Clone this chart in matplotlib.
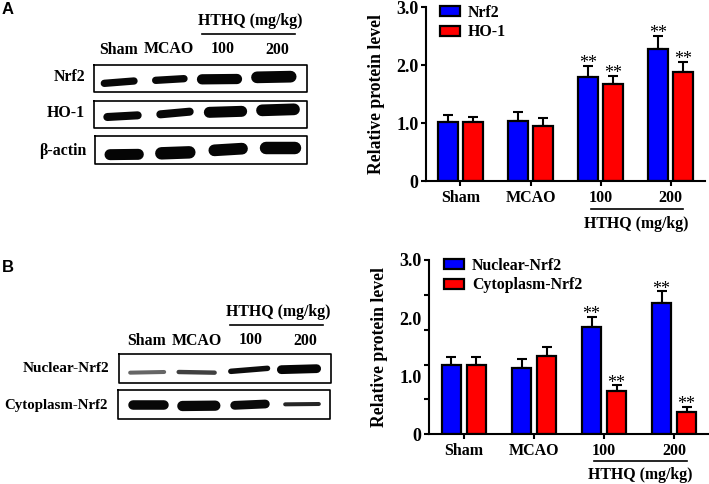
import matplotlib
matplotlib.use('Agg')
import matplotlib.pyplot as plt
from matplotlib.patches import Patch

plt.rcParams['font.family'] = ['Liberation Serif', 'DejaVu Serif']
plt.rcParams['font.weight'] = 'bold'
plt.rcParams['axes.labelweight'] = 'bold'

BLUE = '#0000ff'
RED = '#ff0000'

# ── Data ─────────────────────────────
groups = ['Sham', 'MCAO', '100', '200']

a_nrf2 = [1.01, 1.04, 1.79, 2.27]
a_nrf2_top = [1.14, 1.19, 1.99, 2.50]
a_ho1 = [1.01, 0.95, 1.67, 1.88]
a_ho1_top = [1.11, 1.08, 1.81, 2.05]
a_nrf2_stars = ['', '', '**', '**']
a_ho1_stars = ['', '', '**', '**']

b_nuc = [1.20, 1.14, 1.84, 2.26]
b_nuc_top = [1.33, 1.29, 2.02, 2.46]
b_cyt = [1.20, 1.34, 0.74, 0.39]
b_cyt_top = [1.33, 1.50, 0.84, 0.47]
b_nuc_stars = ['', '', '**', '**']
b_cyt_stars = ['', '', '**', '**']

# blot bands in zoomed picture px: x0, x1, y0, y1, thickness, grey
blot_nrf2 = [(303, 412, 250, 243, 20, 0.03), (457, 562, 241, 236, 20, 0.03),
             (592, 725, 238, 237, 28, 0.02), (755, 888, 232, 230, 32, 0.02)]
blot_ho1 = [(311, 424, 351, 346, 22, 0.03), (470, 580, 343, 335, 22, 0.03),
            (613, 740, 337, 334, 30, 0.02), (770, 898, 331, 328, 32, 0.02)]
blot_actin = [(315, 430, 464, 463, 30, 0.02), (467, 585, 460, 457, 34, 0.02),
              (627, 742, 451, 446, 32, 0.02), (782, 902, 444, 444, 34, 0.02)]
blot_nuc = [(385, 498, 368, 366, 11, 0.40), (530, 650, 366, 368, 12, 0.25),
            (685, 810, 364, 355, 15, 0.05), (832, 962, 359, 356, 24, 0.02)]
blot_cyt = [(385, 505, 466, 466, 26, 0.03), (533, 660, 468, 467, 28, 0.03),
            (692, 808, 466, 462, 24, 0.04), (850, 962, 463, 462, 11, 0.15)]


def draw_chart(rect, vals1, tops1, vals2, tops2, stars1, stars2, label1, label2,
               centre_px, right_px, legend_anchor, ticks, minor_labels, labelpad):
    left, top, width, height = rect
    ax = fig.add_axes([left / 709, 1 - (top + height) / 484, width / 709, height / 484])
    step = 70
    ax.set_xlim((left - centre_px) / step, (right_px - centre_px) / step)
    ax.set_ylim(0, 3)
    off = 12.5 / step
    w = 19.5 / step
    for i in range(4):
        for x, v, t, c, s in [(i - off, vals1[i], tops1[i], BLUE, stars1[i]),
                              (i + off, vals2[i], tops2[i], RED, stars2[i])]:
            ax.bar(x, v, width=w, color=c, edgecolor='black', linewidth=1.6, zorder=2)
            ax.errorbar(x, v, yerr=[[0], [t - v]], color='black', elinewidth=1.5,
                        capsize=3.6, capthick=1.5, zorder=1)
            if s:
                ax.annotate(s, (x, t), xytext=(0, -4.5), textcoords='offset points',
                            ha='center', va='bottom', fontsize=13, fontweight='normal')
    for s in ['top', 'right']:
        ax.spines[s].set_visible(False)
    for s in ['left', 'bottom']:
        ax.spines[s].set_linewidth(1.5)
    ax.set_xticks(range(4))
    ax.set_xticklabels(groups, fontsize=11.5)
    ax.set_yticks(ticks)
    ax.set_yticklabels(['0', '1.0', '2.0', '3.0'] if not minor_labels else [''] * len(ticks))
    ax.tick_params(axis='both', width=1.5, length=3.5, labelsize=13, pad=2)
    ax.tick_params(axis='x', labelsize=11.5, pad=3)
    if minor_labels:
        ax.yaxis.remove_overlapping_locs = False
        ax.set_yticks([0, 1, 2, 3], minor=True)
        ax.set_yticklabels(['0', '1.0', '2.0', '3.0'], minor=True, fontsize=13)
        ax.tick_params(axis='y', which='minor', length=0, pad=5.5)
    ax.set_ylabel('Relative protein level', fontsize=12.7, labelpad=labelpad)
    ax.legend(handles=[Patch(facecolor=BLUE, edgecolor='black', linewidth=1.6, label=label1),
                       Patch(facecolor=RED, edgecolor='black', linewidth=1.6, label=label2)],
              loc='upper left', bbox_to_anchor=legend_anchor, frameon=False, fontsize=11.4,
              handlelength=1.25, handleheight=0.6, handletextpad=0.5, labelspacing=0.22,
              borderaxespad=0, borderpad=0)
    return ax


def draw_blot(bands, x0, x1, y0, y1):
    over.plot([x0, x1, x1, x0, x0], [y0, y0, y1, y1, y0], color='black', lw=1.2)
    for bx0, bx1, by0, by1, th, grey in bands:
        # thickness in zoom px, round caps stick out by half of it
        over.plot([(bx0 + th / 2) / 3, (bx1 - th / 2) / 3],
                  [by0 / 3 + shift, by1 / 3 + shift], color=str(grey),
                  lw=th / 3 * 0.72 * 1.1, solid_capstyle='round')


fig = plt.figure(figsize=(7.09, 4.84), dpi=100)

draw_chart((426, 7, 279, 174), a_nrf2, a_nrf2_top, a_ho1, a_ho1_top, a_nrf2_stars, a_ho1_stars,
           'Nrf2', 'HO-1', 460.5, 705, (0.05, 1.012), [0, 1, 2, 3], False, 8)
draw_chart((429, 260, 279, 174.3), b_nuc, b_nuc_top, b_cyt, b_cyt_top, b_nuc_stars, b_cyt_stars,
           'Nuclear-Nrf2', 'Cytoplasm-Nrf2', 464, 708, (0.054, 1.012), [0, 0.6, 1.2, 1.8, 2.4, 3.0], True, 8)

# overlay in picture px for the blots and free text
over = fig.add_axes([0, 0, 1, 1])
over.set_xlim(0, 709)
over.set_ylim(484, 0)
over.axis('off')
over.patch.set_alpha(0)

shift = 0
draw_blot(blot_nrf2, 93.5, 306.5, 64.5, 92)
draw_blot(blot_ho1, 93.5, 306.5, 100.5, 128)
draw_blot(blot_actin, 94.5, 307, 135.5, 164)
shift = 250
draw_blot(blot_nuc, 118.5, 331, 353.5, 382.5)
draw_blot(blot_cyt, 118, 330, 389.5, 419)


def label(x, y, s, size=11.4, ha='center', **kw):
    over.text(x, y, s, fontsize=size, ha=ha, va='center', **kw)


over.text(2, 9, 'A', fontsize=12, fontweight='bold', family='Liberation Sans', va='center')
over.text(2, 268, 'B', fontsize=12, fontweight='bold', family='Liberation Sans', va='center')

label(250, 21, 'HTHQ (mg/kg)')
over.plot([202, 295], [34, 34], color='black', lw=1.2)
for x, y, s in [(119, 50, 'Sham'), (169, 49, 'MCAO'), (223, 49, '100'), (277, 50, '200')]:
    label(x, y, s)
label(85, 77, 'Nrf2', ha='right')
label(85, 113, 'HO-1', ha='right')
label(86, 151, 'β-actin', ha='right')

label(278, 312, 'HTHQ (mg/kg)')
over.plot([230, 323], [325, 325], color='black', lw=1.2)
for x, y, s in [(147, 341, 'Sham'), (197, 341, 'MCAO'), (251, 340, '100'), (305, 341, '200')]:
    label(x, y, s)
label(109, 368, 'Nuclear-Nrf2', size=11, ha='right')
label(108, 405, 'Cytoplasm-Nrf2', size=10.7, ha='right')

label(636.7, 224, 'HTHQ (mg/kg)')
over.plot([590.7, 683], [209, 209], color='black', lw=1.2)
label(640, 475, 'HTHQ (mg/kg)')
over.plot([594, 687], [460.7, 460.7], color='black', lw=1.2)

fig.savefig('out.png', dpi=100)
